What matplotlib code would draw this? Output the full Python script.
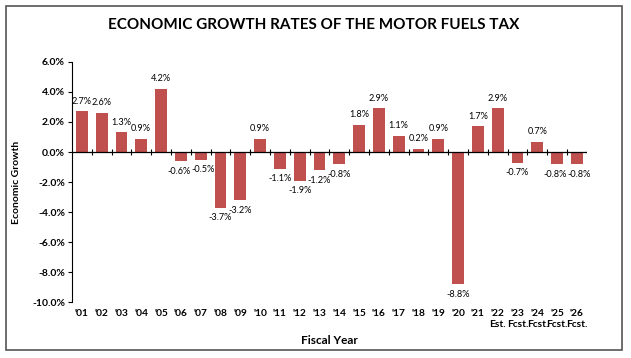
import matplotlib
matplotlib.use("Agg")
import matplotlib.pyplot as plt
from matplotlib.patches import Rectangle
import numpy as np

years = ["'01", "'02", "'03", "'04", "'05", "'06", "'07", "'08", "'09", "'10",
         "'11", "'12", "'13", "'14", "'15", "'16", "'17", "'18", "'19", "'20",
         "'21", "'22", "'23", "'24", "'25", "'26"]
suffix = [""] * 21 + ["Est.", "Fcst.", "Fcst.", "Fcst.", "Fcst."]
growth = [2.7, 2.6, 1.3, 0.9, 4.2, -0.6, -0.5, -3.7, -3.2, 0.9,
          -1.1, -1.9, -1.2, -0.8, 1.8, 2.9, 1.1, 0.2, 0.9, -8.8,
          1.7, 2.9, -0.7, 0.7, -0.8, -0.8]
yticks = [-10, -8, -6, -4, -2, 0, 2, 4, 6]

plt.rcParams['font.family'] = ['Lato', 'DejaVu Sans']
bar_color = "#C0504D"

fig = plt.figure(figsize=(6.31, 3.58), dpi=100)
fig.patches.append(Rectangle((0.009, 0.022), 0.977, 0.962, transform=fig.transFigure,
                             fill=False, edgecolor="#555555", linewidth=1.2))
ax = fig.add_axes([0.114, 0.156, 0.816, 0.671])

x = np.arange(len(years))
ax.bar(x, growth, width=0.6, color=bar_color, zorder=2)

ax.set_xlim(-0.5, len(years) - 0.5)
ax.set_ylim(-10, 6)
ax.set_yticks(yticks)
ax.set_yticklabels([f"{v:.1f}%" for v in yticks], fontweight="bold", fontsize=7.5)
ax.tick_params(axis="y", direction="out", length=3, width=0.8, pad=2)

labels = [f"{y}\n{s}" if s else y for y, s in zip(years, suffix)]
ax.set_xticks(x)
ax.set_xticklabels(labels, fontweight="bold", fontsize=7.3, va="top", linespacing=1.3)
ax.tick_params(axis="x", length=0, pad=5)

for s in ["top", "right", "bottom"]:
    ax.spines[s].set_visible(False)
ax.spines["left"].set_linewidth(0.8)

ax.axhline(0, color="black", linewidth=0.9, zorder=3)
bounds = np.arange(len(years) + 1) - 0.5
ax.vlines(bounds[1:], -0.18, 0.18, color="black", linewidth=0.8, zorder=3)

# small horizontal nudges (points) for labels that crowd their neighbours
nudge = {5: -1.5, 6: 1.5, 24: -1.5, 25: 1.5}
for i, (xi, v) in enumerate(zip(x, growth)):
    dx = nudge.get(i, 0)
    if v >= 0:
        ax.annotate(f"{v:.1f}%", (xi, v), xytext=(dx, 4), textcoords="offset points",
                    ha="center", va="bottom", fontsize=6.6)
    else:
        ax.annotate(f"{v:.1f}%", (xi, v), xytext=(dx, -4), textcoords="offset points",
                    ha="center", va="top", fontsize=6.6)

ax.set_ylabel("Economic Growth", fontweight="bold", fontsize=7.5, labelpad=8)
ax.set_xlabel("Fiscal Year", fontweight="bold", fontsize=8.5, labelpad=4)
fig.text(0.497, 0.93, "ECONOMIC GROWTH RATES OF THE MOTOR FUELS TAX",
         ha="center", va="center", fontweight="bold", fontsize=11)

fig.savefig("out.png", dpi=100)
